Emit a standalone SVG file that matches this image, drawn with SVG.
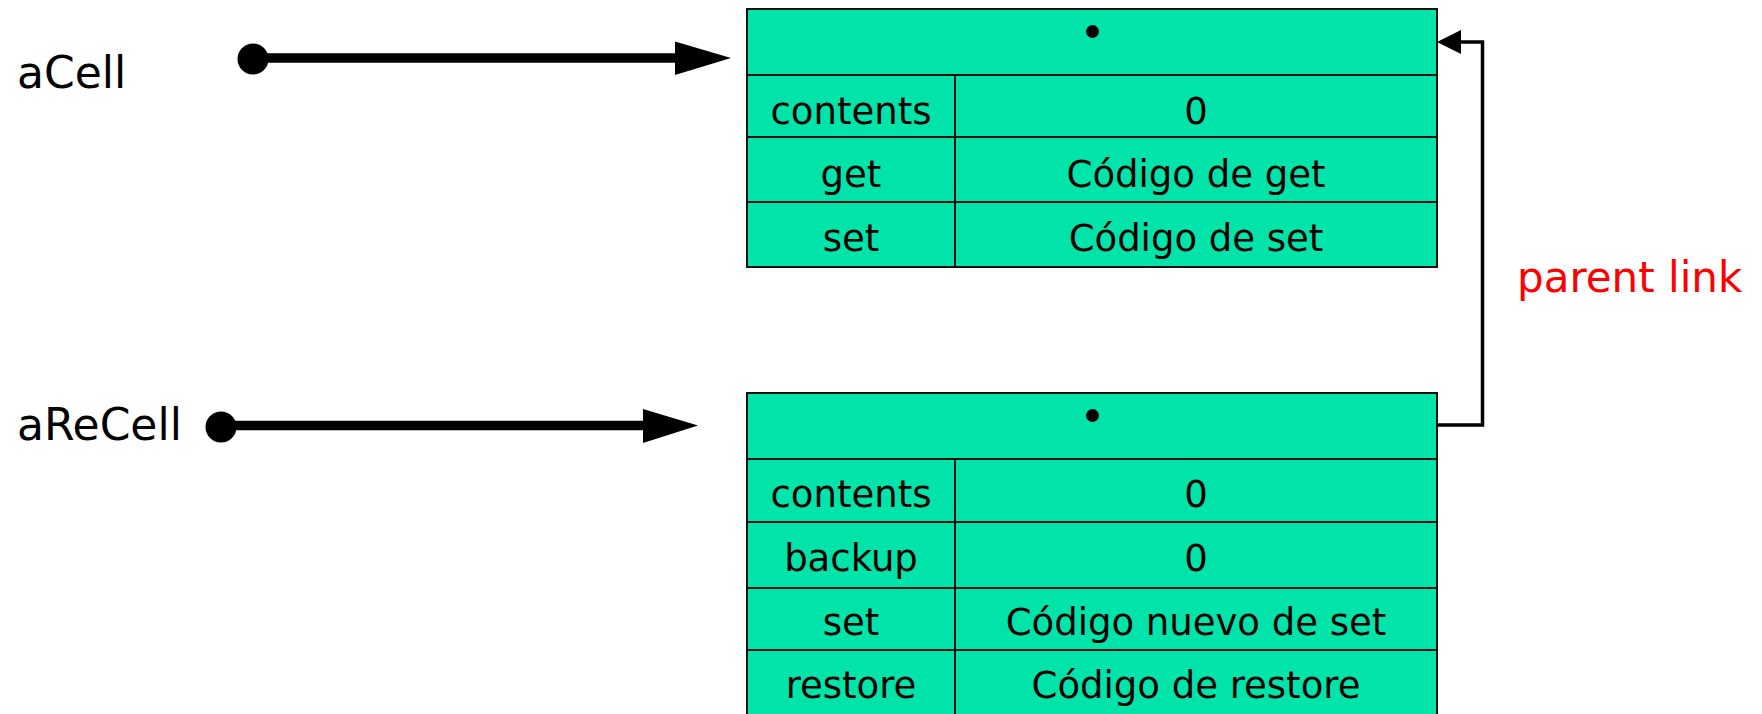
<svg xmlns="http://www.w3.org/2000/svg" width="1762" height="714" viewBox="0 0 1762 714">
<style>
.cell{fill:#00E4AA;stroke:#111;stroke-width:2}
.ln{stroke:#111;stroke-width:2;fill:none}
.t{font-family:"DejaVu Sans",Verdana,sans-serif;font-size:37px;fill:#000;text-anchor:middle}
.lab{font-family:"DejaVu Sans",Verdana,sans-serif;font-size:44px;fill:#000}
.red{font-family:"DejaVu Sans",Verdana,sans-serif;font-size:42px;fill:#FF0000}
</style>
<rect width="1762" height="714" fill="#fff"/>
<g id="aCell">
<text class="lab" x="17" y="88">aCell</text>
</g>
<g id="aReCell">
<text class="lab" x="17" y="440">aReCell</text>
</g>
<g id="cellObject">
<rect class="cell" x="747" y="9" width="690" height="258"/>
<line class="ln" x1="747" y1="75" x2="1437" y2="75"/>
<line class="ln" x1="747" y1="137" x2="1437" y2="137"/>
<line class="ln" x1="747" y1="202" x2="1437" y2="202"/>
<line class="ln" x1="955" y1="75" x2="955" y2="267"/>
<circle cx="1092.5" cy="31.5" r="6.5" fill="#000"/>
<text class="t" x="851" y="124">contents</text>
<text class="t" x="1196" y="124">0</text>
<text class="t" x="851" y="187">get</text>
<text class="t" x="1196" y="187">Código de get</text>
<text class="t" x="851" y="251">set</text>
<text class="t" x="1196" y="251">Código de set</text>
</g>
<g id="reCellObject">
<rect class="cell" x="747" y="393" width="690" height="330"/>
<line class="ln" x1="747" y1="459" x2="1437" y2="459"/>
<line class="ln" x1="747" y1="522" x2="1437" y2="522"/>
<line class="ln" x1="747" y1="588" x2="1437" y2="588"/>
<line class="ln" x1="747" y1="650" x2="1437" y2="650"/>
<line class="ln" x1="955" y1="459" x2="955" y2="723"/>
<circle cx="1092.5" cy="415.5" r="6.5" fill="#000"/>
<text class="t" x="851" y="507">contents</text>
<text class="t" x="1196" y="507">0</text>
<text class="t" x="851" y="571">backup</text>
<text class="t" x="1196" y="571">0</text>
<text class="t" x="851" y="635">set</text>
<text class="t" x="1196" y="635">Código nuevo de set</text>
<text class="t" x="851" y="698">restore</text>
<text class="t" x="1196" y="698">Código de restore</text>
</g>
<g id="parentLabel">
<text class="red" x="1517" y="292">parent link</text>
</g>
<g id="connectors">
<circle cx="253" cy="59" r="15.5" fill="#000"/>
<line x1="253" y1="58" x2="680" y2="58" stroke="#000" stroke-width="9.5"/>
<polygon points="675,41.5 731,58 675,75" fill="#000"/>
<circle cx="221" cy="427" r="15.5" fill="#000"/>
<line x1="221" y1="425.5" x2="648" y2="425.5" stroke="#000" stroke-width="9.5"/>
<polygon points="643,409 698,425.5 643,443" fill="#000"/>
<path d="M1436,425 H1482.5 V42 H1458" fill="none" stroke="#000" stroke-width="3.5"/>
<polygon points="1437,42 1461,30 1461,54" fill="#000"/>
</g>
</svg>
